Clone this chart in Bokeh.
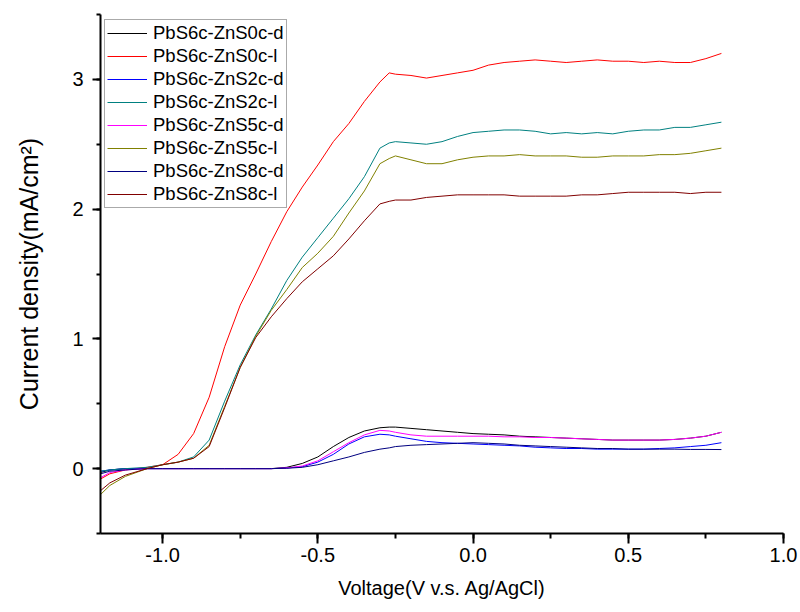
from bokeh.plotting import figure
from bokeh.models import SingleIntervalTicker, NumeralTickFormatter, Legend, LegendItem
from bokeh.embed import file_html
from bokeh.resources import INLINE

voltage = [-1.2, -1.17, -1.12, -1.05, -1.0, -0.95, -0.9, -0.85, -0.8, -0.75, -0.7, -0.65,
           -0.6, -0.55, -0.5, -0.45, -0.4, -0.35, -0.3, -0.27, -0.25, -0.2, -0.15, -0.1,
           -0.05, 0.0, 0.05, 0.1, 0.15, 0.2, 0.25, 0.3, 0.35, 0.4, 0.45, 0.5, 0.55, 0.6,
           0.65, 0.7, 0.75, 0.8]

zns0_dark = [-0.03, -0.01, 0.0, 0.0, 0.0, 0.0, 0.0, 0.0, 0.0, 0.0, 0.0, 0.0,
             0.01, 0.04, 0.09, 0.17, 0.24, 0.29, 0.315, 0.32, 0.32, 0.31, 0.30, 0.29,
             0.28, 0.27, 0.265, 0.26, 0.25, 0.245, 0.24, 0.235, 0.23, 0.225, 0.22, 0.22, 0.22, 0.22,
             0.225, 0.235, 0.25, 0.28]
zns0_light = [-0.08, -0.04, -0.01, 0.01, 0.03, 0.11, 0.27, 0.55, 0.94, 1.26, 1.50, 1.75,
              1.98, 2.17, 2.34, 2.52, 2.66, 2.83, 2.98, 3.05, 3.04, 3.03, 3.01, 3.03,
              3.05, 3.07, 3.11, 3.13, 3.14, 3.15, 3.14, 3.13, 3.14, 3.15, 3.14, 3.14, 3.13, 3.14,
              3.13, 3.13, 3.16, 3.20]
zns2_dark = [-0.02, -0.01, 0.0, 0.0, 0.0, 0.0, 0.0, 0.0, 0.0, 0.0, 0.0, 0.0,
             0.005, 0.015, 0.05, 0.11, 0.19, 0.245, 0.265, 0.26, 0.25, 0.23, 0.21, 0.20,
             0.195, 0.19, 0.185, 0.18, 0.175, 0.165, 0.16, 0.155, 0.155, 0.15, 0.15, 0.15, 0.15, 0.155,
             0.16, 0.17, 0.18, 0.20]
zns2_light = [-0.02, -0.01, 0.0, 0.01, 0.03, 0.05, 0.09, 0.22, 0.52, 0.80, 1.03, 1.23,
              1.45, 1.63, 1.78, 1.93, 2.08, 2.25, 2.47, 2.51, 2.52, 2.51, 2.50, 2.52,
              2.56, 2.59, 2.60, 2.61, 2.61, 2.60, 2.58, 2.59, 2.58, 2.59, 2.58, 2.60, 2.61, 2.61,
              2.63, 2.63, 2.65, 2.67]
zns5_dark = [-0.07, -0.03, -0.01, 0.0, 0.0, 0.0, 0.0, 0.0, 0.0, 0.0, 0.0, 0.0,
             0.005, 0.02, 0.06, 0.13, 0.20, 0.26, 0.295, 0.29, 0.28, 0.26, 0.25, 0.25,
             0.25, 0.25, 0.25, 0.245, 0.245, 0.24, 0.24, 0.235, 0.23, 0.225, 0.22, 0.22, 0.22, 0.22,
             0.225, 0.235, 0.25, 0.28]
zns5_light = [-0.20, -0.13, -0.06, 0.0, 0.03, 0.05, 0.08, 0.18, 0.48, 0.78, 1.02, 1.22,
              1.38, 1.55, 1.66, 1.79, 1.97, 2.14, 2.35, 2.39, 2.41, 2.38, 2.35, 2.35,
              2.38, 2.40, 2.41, 2.41, 2.42, 2.41, 2.41, 2.41, 2.40, 2.40, 2.41, 2.41, 2.41, 2.42,
              2.42, 2.43, 2.45, 2.47]
zns8_dark = [-0.04, -0.02, -0.01, 0.0, 0.0, 0.0, 0.0, 0.0, 0.0, 0.0, 0.0, 0.0,
             0.003, 0.01, 0.03, 0.06, 0.09, 0.125, 0.15, 0.16, 0.17, 0.18, 0.185, 0.19,
             0.195, 0.20, 0.195, 0.19, 0.18, 0.175, 0.17, 0.165, 0.16, 0.155, 0.155, 0.15, 0.15, 0.15,
             0.15, 0.148, 0.148, 0.147]
zns8_light = [-0.17, -0.11, -0.05, 0.0, 0.03, 0.05, 0.08, 0.17, 0.47, 0.78, 1.01, 1.17,
              1.31, 1.44, 1.54, 1.64, 1.77, 1.91, 2.04, 2.06, 2.07, 2.07, 2.09, 2.10,
              2.11, 2.11, 2.11, 2.11, 2.10, 2.10, 2.10, 2.10, 2.11, 2.11, 2.12, 2.13, 2.13, 2.13,
              2.13, 2.12, 2.13, 2.13]

series_names = ["PbS6c-ZnS0c-d", "PbS6c-ZnS0c-l", "PbS6c-ZnS2c-d", "PbS6c-ZnS2c-l",
                "PbS6c-ZnS5c-d", "PbS6c-ZnS5c-l", "PbS6c-ZnS8c-d", "PbS6c-ZnS8c-l"]
series_values = [zns0_dark, zns0_light, zns2_dark, zns2_light,
                 zns5_dark, zns5_light, zns8_dark, zns8_light]
series_colors = ["#000000", "#FF0000", "#0000FF", "#008080",
                 "#FF00FF", "#808000", "#000080", "#800000"]

FONT = "Liberation Sans"

p = figure(width=800, height=610, output_backend="svg", toolbar_location=None,
           x_range=(-1.2, 1.0), y_range=(-0.5, 3.5),
           min_border_left=100, min_border_right=17, min_border_top=14, min_border_bottom=77)
p.frame_width = 683
p.frame_height = 519
p.outline_line_color = None
p.xgrid.visible = False
p.ygrid.visible = False
p.background_fill_color = "white"
p.border_fill_color = "white"

p.xaxis.ticker = SingleIntervalTicker(interval=0.5, num_minor_ticks=2)
p.yaxis.ticker = SingleIntervalTicker(interval=1, num_minor_ticks=2)
p.xaxis.formatter = NumeralTickFormatter(format="0.0")
p.yaxis.formatter = NumeralTickFormatter(format="0")

for ax in (p.xaxis[0], p.yaxis[0]):
    ax.axis_line_width = 2
    ax.axis_line_color = "black"
    ax.major_tick_line_width = 2
    ax.minor_tick_line_width = 2
    ax.major_tick_line_color = "black"
    ax.minor_tick_line_color = "black"
    ax.major_tick_in = 0
    ax.minor_tick_in = 0
    ax.major_label_text_font = FONT
    ax.major_label_text_font_size = "20px"
    ax.major_label_text_color = "black"
    ax.axis_label_text_font = FONT
    ax.axis_label_text_font_style = "normal"
    ax.axis_label_text_color = "black"

p.xaxis.axis_label_text_font_size = "20px"
p.yaxis.axis_label_text_font_size = "25px"
p.xaxis.major_tick_out = 10
p.xaxis.minor_tick_out = 5
p.yaxis.major_tick_out = 8
p.yaxis.minor_tick_out = 4
p.xaxis.major_label_standoff = 4
p.yaxis.major_label_standoff = 9
p.xaxis.axis_label = "Voltage(V v.s. Ag/AgCl)"
p.yaxis.axis_label = "Current density(mA/cm\u00b2)"
p.xaxis.axis_label_standoff = 12
p.yaxis.axis_label_standoff = 26

items = []
for name, vals, col in zip(series_names, series_values, series_colors):
    r = p.line(voltage, vals, line_color=col, line_width=1)
    items.append(LegendItem(label=name, renderers=[r]))

legend = Legend(items=items, location=(4, 325))
legend.label_text_font = FONT
legend.label_text_font_size = "18.5px"
legend.label_text_color = "black"
legend.label_text_line_height = 1.0
legend.glyph_width = 40
legend.glyph_height = 18
legend.label_height = 18
legend.label_standoff = 6
legend.spacing = 1
legend.padding = 2
legend.margin = 0
legend.border_line_color = "#555555"
legend.border_line_width = 1
legend.background_fill_alpha = 1.0
p.add_layout(legend, "center")

open("out.html", "w").write(file_html(p, INLINE))
